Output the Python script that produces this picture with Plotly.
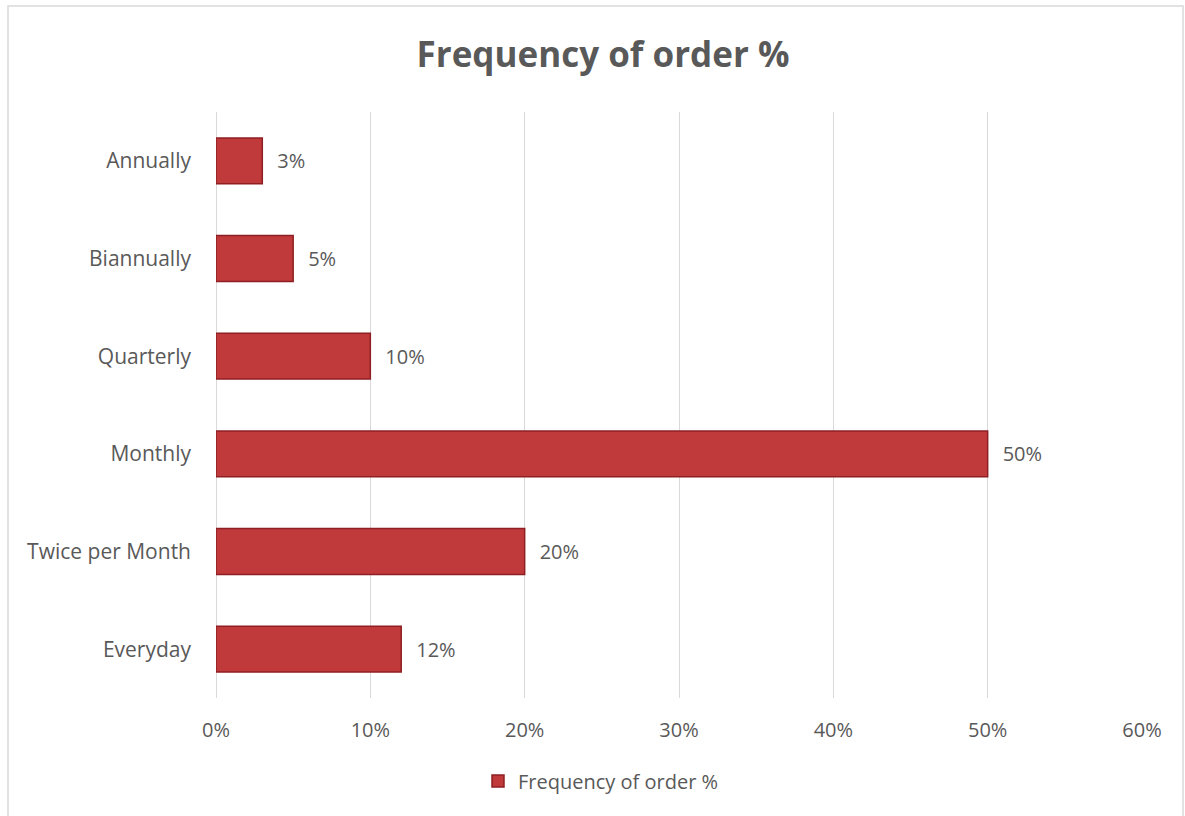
import plotly.graph_objects as go

# Order-frequency survey results (share of respondents, %)
categories = ["Everyday", "Twice per Month", "Monthly", "Quarterly", "Biannually", "Annually"]
shares = [12, 20, 50, 10, 5, 3]
x_ticks = [0, 10, 20, 30, 40, 50, 60]
x_tick_labels = [f"{t}%" for t in x_ticks]
series_name = "Frequency of order %"

W, H = 1185, 816
M_L, M_R, M_T, M_B = 216, 43, 112, 118
plot_w = W - M_L - M_R
plot_h = H - M_T - M_B

text_grey = "#595959"
bar_red = "#C0393B"
edge_red = "#8E1F22"
font_family = "Open Sans, DejaVu Sans, sans-serif"

fig = go.Figure()
fig.add_trace(go.Bar(
    y=categories,
    x=shares,
    orientation="h",
    name=series_name,
    width=0.47,
    marker=dict(color=bar_red, line=dict(color=edge_red, width=1.5)),
    text=[f"\u2002\u200a{v}%" for v in shares],
    textposition="outside",
    textfont=dict(size=20, color=text_grey, family=font_family),
    cliponaxis=False,
    showlegend=True,
))

# Outer chart frame, expressed relative to the plot area
fx0 = (8 - M_L) / plot_w
fx1 = (1183 - M_L) / plot_w
fy1 = 1 + (M_T - 6) / plot_h
fy0 = -(H + 5 - M_T - plot_h) / plot_h
fig.add_shape(type="rect", xref="paper", yref="paper",
              x0=fx0, x1=fx1, y0=fy0, y1=fy1,
              line=dict(color="#D9D9D9", width=1.5), fillcolor="rgba(0,0,0,0)",
              layer="below")

fig.update_layout(
    width=W, height=H,
    margin=dict(l=M_L, r=M_R, t=M_T, b=M_B, pad=0),
    paper_bgcolor="white",
    plot_bgcolor="white",
    title=dict(text="<b>Frequency of order %</b>", x=603 / W, xref="container",
               xanchor="center", y=1 - 55 / H, yanchor="middle",
               font=dict(size=35, color=text_grey, family=font_family)),
    font=dict(family=font_family, color=text_grey, size=20),
    bargap=0.53,
    xaxis=dict(range=[0, 60], tickvals=x_ticks, ticktext=x_tick_labels,
               showgrid=True, gridcolor="#D9D9D9", gridwidth=1.3,
               zeroline=True, zerolinecolor="#D9D9D9", zerolinewidth=1.3,
               showline=False, ticks="", ticklabelstandoff=18,
               tickfont=dict(size=20, color=text_grey)),
    yaxis=dict(categoryorder="array", categoryarray=categories,
               showgrid=False, showline=False, ticks="", ticklabelstandoff=24,
               tickfont=dict(size=21, color=text_grey)),
    legend=dict(orientation="h", x=601 / W, xref="container", xanchor="center",
                y=1 - 781 / H, yref="container", yanchor="middle",
                font=dict(size=20, color=text_grey), itemwidth=30),
)

fig.write_html("out.html")
